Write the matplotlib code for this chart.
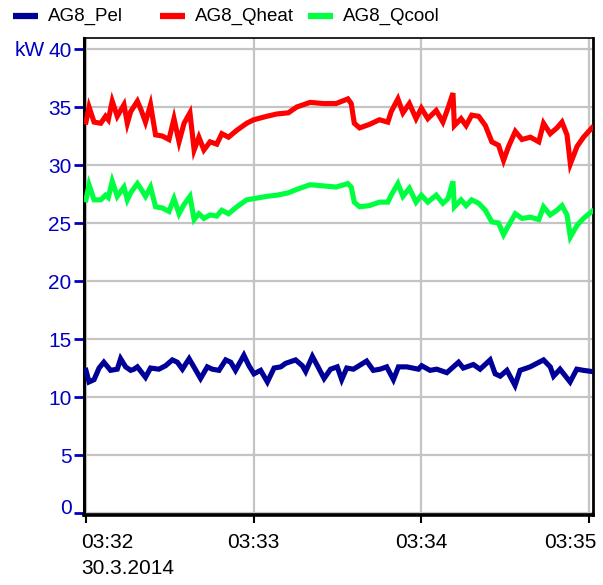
import matplotlib
matplotlib.use("Agg")
import matplotlib.pyplot as plt
from matplotlib.lines import Line2D
import matplotlib.transforms as mtransforms

plt.rcParams['font.family'] = ['Liberation Sans', 'DejaVu Sans']

# seconds after 03:32:00 on 30.3.2014
t_heat = [0, 1.1, 2.9, 5.3, 7, 8, 9.4, 11.2, 13.6, 14.8, 16, 18.4, 19.8, 21.3, 23.1, 24.9,
          27.3, 29.7, 31.5, 33.3, 35.1, 37.2, 38.7, 40.4, 42.2, 44.4, 46.8, 48.6, 51, 54,
          57.5, 60, 64.7, 68.3, 72.4, 75.4, 80.2, 85, 89.5, 93.7, 94.9, 96, 97.9, 101.4,
          105, 108, 109.2, 111.6, 113.4, 115.7, 118.1, 120, 122.3, 125.3, 127.7, 129.5,
          131.3, 131.8, 134.2, 136, 138, 140.5, 142.9, 145.2, 147.6, 149.4, 151.2, 153.6,
          156, 159, 162, 163.7, 166.1, 168.5, 170.3, 172.1, 173.3, 175.7, 178, 181]
qheat = [33.7, 35.0, 33.7, 33.6, 34.2, 33.9, 35.5, 34.2, 35.2, 33.6, 34.6, 35.5, 34.7, 33.7,
         35.2, 32.6, 32.5, 32.2, 34.0, 32.0, 33.6, 34.5, 31.3, 32.4, 31.3, 32.0, 31.8, 32.7,
         32.4, 33.0, 33.6, 33.9, 34.2, 34.4, 34.5, 35.0, 35.4, 35.3, 35.3, 35.7, 35.3, 33.6,
         33.2, 33.5, 33.9, 33.7, 34.6, 35.7, 34.5, 35.3, 34.0, 34.9, 34.0, 34.7, 33.7, 34.9,
         36.2, 33.4, 34.0, 33.4, 34.3, 34.2, 33.4, 32.0, 31.7, 30.4, 31.6, 32.9, 32.2, 32.4,
         32.0, 33.6, 32.7, 33.2, 33.7, 32.6, 30.1, 31.6, 32.4, 33.2]
t_cool = t_heat
qcool = [27.0, 28.3, 27.0, 27.0, 27.4, 27.2, 28.6, 27.3, 28.1, 27.0, 27.6, 28.4, 27.9, 27.3,
         28.1, 26.4, 26.3, 26.0, 27.1, 25.8, 26.6, 27.3, 25.3, 25.8, 25.4, 25.7, 25.6, 26.1,
         25.8, 26.4, 27.0, 27.1, 27.3, 27.4, 27.6, 27.9, 28.3, 28.2, 28.1, 28.4, 28.1, 26.8,
         26.4, 26.5, 26.8, 26.8, 27.4, 28.4, 27.3, 28.0, 26.8, 27.4, 26.8, 27.4, 26.7, 27.1,
         28.6, 26.4, 27.0, 26.5, 27.0, 26.7, 26.1, 25.1, 25.0, 24.0, 24.8, 25.8, 25.4, 25.5,
         25.3, 26.4, 25.7, 26.1, 26.5, 25.7, 23.8, 24.8, 25.4, 26.0]
t_pel = [0, 1.1, 2.9, 4.7, 6.4, 8.8, 11.2, 12.4, 14.2, 16, 17.2, 18.4, 21.3, 23.1, 26.1, 28.5,
         30.9, 32.7, 34.5, 36.9, 38.6, 41, 43.4, 45.2, 47.6, 50, 51.8, 53.5, 56.5, 58.3, 60.1,
         62.5, 64.9, 67.3, 69.7, 71.4, 75, 77.4, 78.6, 81, 82.8, 85.2, 87.5, 89.9, 91.5, 93.3,
         95.7, 100.4, 102.8, 105.2, 107.6, 110, 111.8, 114.8, 118.9, 120.1, 123.1, 125.5,
         129.1, 133.3, 135, 138.6, 141, 144.6, 146.4, 148.2, 150.6, 153.5, 155.3, 158.9,
         163.7, 166.1, 167.3, 169.6, 173.2, 175.6, 178, 181]
pel = [12.3, 11.3, 11.5, 12.5, 13.0, 12.3, 12.4, 13.3, 12.6, 12.3, 12.4, 12.6, 11.7, 12.5,
       12.4, 12.7, 13.2, 13.0, 12.4, 13.3, 12.6, 11.6, 12.6, 12.4, 12.3, 13.2, 13.0, 12.3,
       13.6, 12.7, 12.0, 12.3, 11.3, 12.5, 12.6, 12.9, 13.2, 12.7, 12.2, 13.5, 12.7, 11.6,
       12.4, 12.6, 11.5, 12.5, 12.4, 13.1, 12.3, 12.4, 12.6, 11.5, 12.6, 12.6, 12.4, 12.7,
       12.3, 12.4, 12.1, 13.0, 12.5, 12.8, 12.4, 13.2, 12.0, 11.8, 12.3, 11.0, 12.3, 12.6,
       13.2, 12.6, 11.8, 12.4, 11.3, 12.4, 12.3, 12.2]

series_names = ["AG8_Pel", "AG8_Qheat", "AG8_Qcool"]
series_colors = ["#000099", "#ff0000", "#00ff40"]
x_ticks = [0, 60, 120, 180]
x_ticklabels = ["03:32\n30.3.2014", "03:33", "03:34", "03:35"]
y_ticks = [0, 5, 10, 15, 20, 25, 30, 35, 40]

fig = plt.figure(figsize=(6.03, 5.85), dpi=100)
ax = fig.add_axes([84/603, 70/585, 509/603, 477/585])

ax.plot(t_pel, pel, color=series_colors[0], lw=3.7, solid_joinstyle='miter', zorder=3)
ax.plot(t_heat, qheat, color=series_colors[1], lw=3.7, solid_joinstyle='miter', zorder=3)
ax.plot(t_cool, qcool, color=series_colors[2], lw=3.7, solid_joinstyle='miter', zorder=3)

ax.set_xlim(-0.7, 181.4)
ax.set_ylim(-0.17, 40.95)

# x ticks: marks from axis, labels placed individually (first left-, last right-aligned)
ax.set_xticks(x_ticks)
ax.set_xticklabels([])
ax.tick_params(axis='x', direction='out', length=6, width=1.5, colors='black')
aligns = ['left', 'center', 'center', 'right']
shifts = [-3.5, 0, 0, 5.5]  # points
for xv, lab, ha, dx in zip(x_ticks, x_ticklabels, aligns, shifts):
    ax.annotate(lab, xy=(xv, 0), xycoords=('data', 'axes fraction'),
                xytext=(dx, -13), textcoords='offset points',
                ha=ha, va='top', fontsize=15, linespacing=1.45, color='black',
                annotation_clip=False)

ax.set_yticks(y_ticks)
ax.set_yticklabels([str(v) for v in y_ticks], fontsize=15, color='#0000c0')
ax.tick_params(axis='y', direction='out', length=7, width=2, colors='#0000c0', pad=2)
ylabs = ax.get_yticklabels()
ylabs[0].set_transform(ylabs[0].get_transform() +
                       mtransforms.ScaledTranslation(0, 7/100, fig.dpi_scale_trans))
for l in ylabs:
    l.set_color('#0000c0')

ax.grid(True, color='#c4c4c4', lw=1.6)
ax.set_axisbelow(True)

ax.spines['left'].set_linewidth(2.2)
ax.spines['bottom'].set_linewidth(2.6)
ax.spines['right'].set_linewidth(2.0)
ax.spines['top'].set_linewidth(1.2)
for s in ax.spines.values():
    s.set_color('black')

fig.text(15/603, 1 - 50/585, "kW", fontsize=15, color='#0000c0', va='center', ha='left')

# legend with fixed column positions
leg_x = [13, 160, 308]
for name, col, x0 in zip(series_names, series_colors, leg_x):
    fig.add_artist(Line2D([x0/603, (x0+25)/603], [1-16/585, 1-16/585], color=col, lw=4.5,
                          transform=fig.transFigure, solid_capstyle='butt'))
    fig.text((x0+35)/603, 1-16/585, name, fontsize=13.5, color='black', va='center', ha='left')

fig.savefig("out.png", dpi=100)
